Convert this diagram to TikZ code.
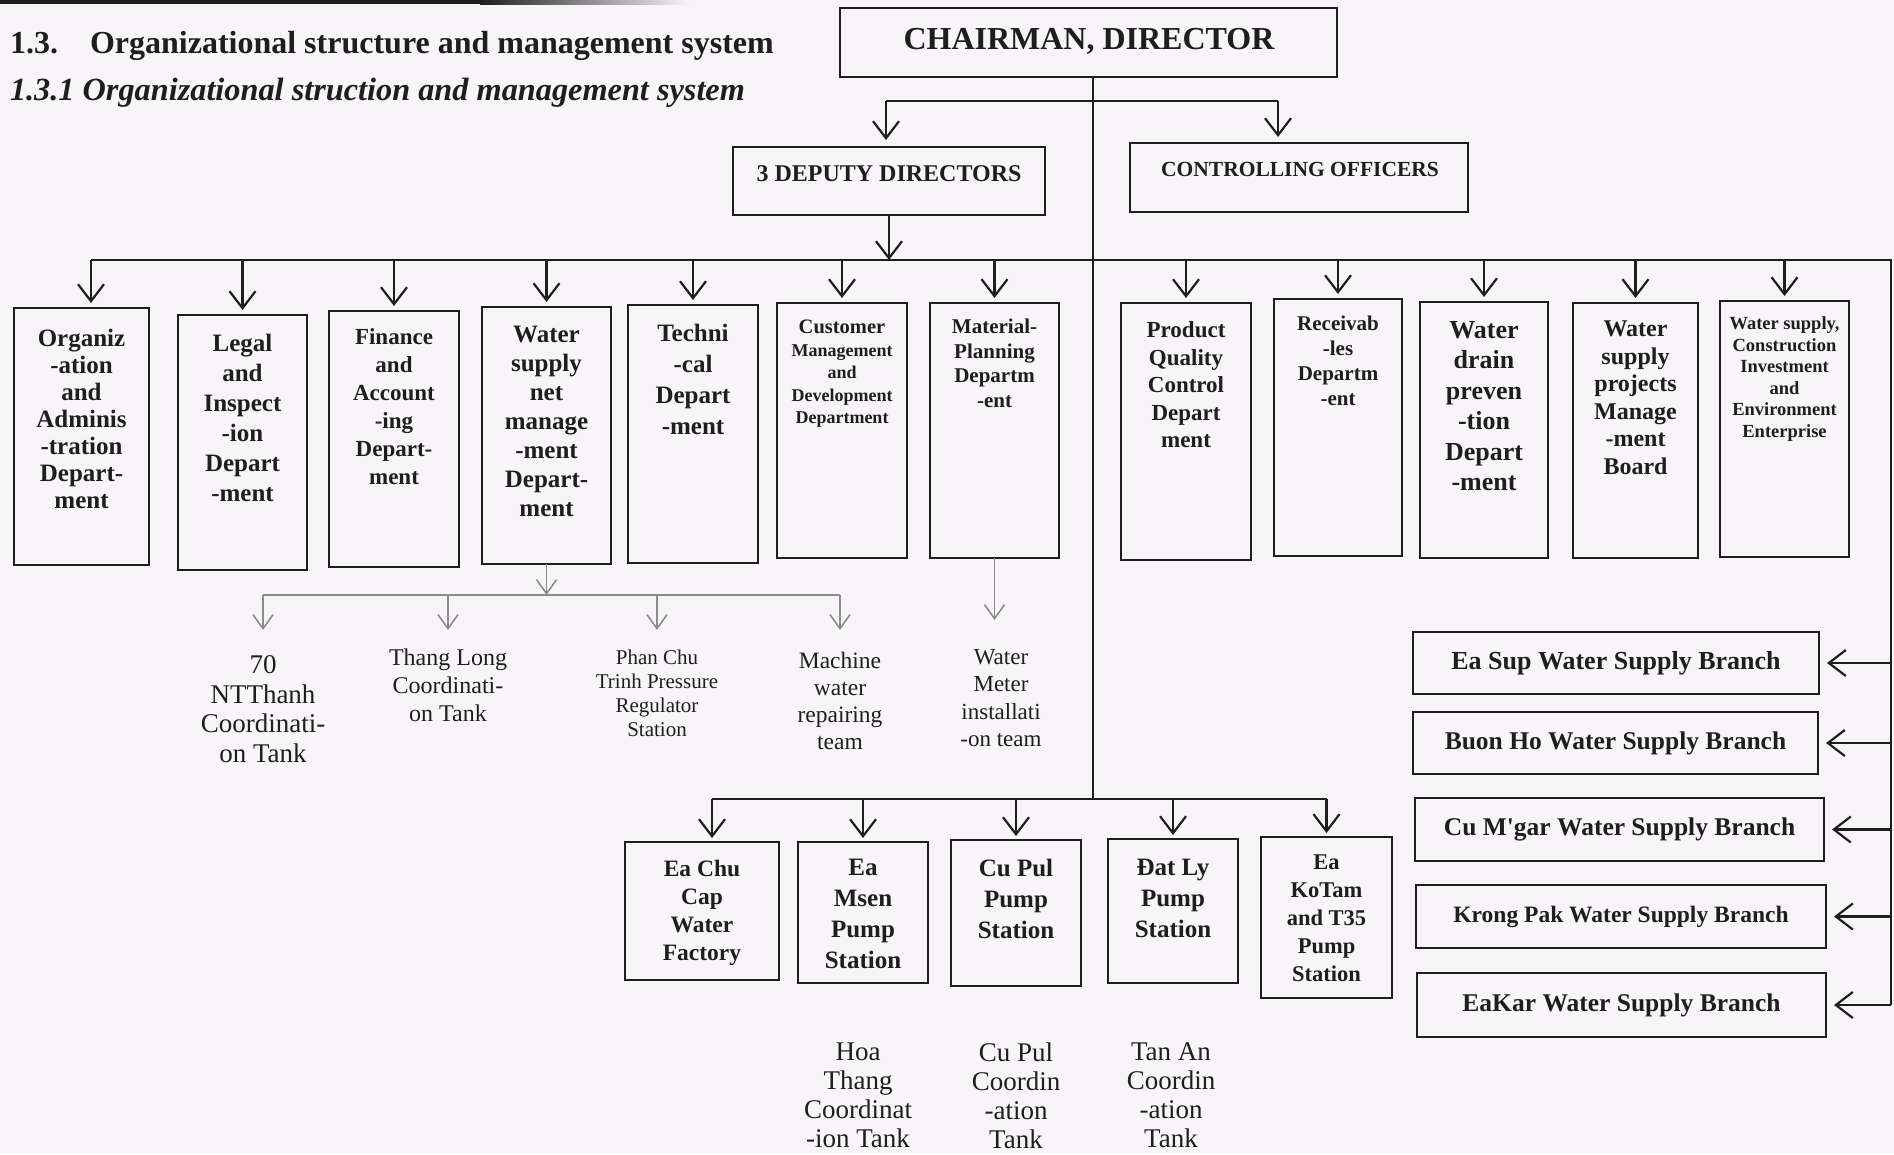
\documentclass[tikz,border=0pt]{standalone}
\usepackage{fontspec}
\setmainfont{Liberation Serif}
\usetikzlibrary{arrows.meta}
\definecolor{bgcol}{RGB}{248,245,248}
\definecolor{inkcol}{RGB}{30,30,30}
\tikzset{
  box/.style={draw=inkcol, line width=2.6pt, inner sep=0pt, outer sep=0pt},
  conn/.style={draw=inkcol, line width=2.2pt},
  arr/.style={conn, -{Straight Barb[length=17pt,width=26pt]}},
  gconn/.style={draw=black!45, line width=1.6pt},
  garr/.style={gconn, -{Straight Barb[length=14pt,width=20pt]}},
  txt/.style={inner sep=0pt, outer sep=0pt, align=center, text=inkcol},
}
\newcommand{\mybox}[5]{\node[box, anchor=north west, minimum width={#4-#2}, minimum height={#5-#3}] (#1) at (#2,#3) {};}
\begin{document}
\begin{tikzpicture}[x=1pt,y=-1pt]
\useasboundingbox (0,0) rectangle (1894,1154);
\fill[bgcol] (0,0) rectangle (1894,1154);
\fill[inkcol] (0,0) rectangle (480,4);
\shade[left color=inkcol, right color=bgcol] (480,0) rectangle (690,4);

% titles
\node[txt, anchor=base west, font=\bfseries\fontsize{32}{38}\selectfont] (title) at (10,53) {1.3.\hspace{32pt}Organizational structure and management system};
\node[txt, anchor=base west, font=\bfseries\itshape\fontsize{32.3}{38}\selectfont] (subtitle) at (10,100) {1.3.1 Organizational struction and management system};

% top level
\mybox{chair}{840}{8}{1337}{77}
\node[txt, font=\bfseries\fontsize{32}{36}\selectfont] (chairt) at (1089,41) {CHAIRMAN, DIRECTOR};
\mybox{deputy}{733}{147}{1045}{215}
\node[txt, font=\bfseries\fontsize{24}{27}\selectfont] (deputyt) at (889,174) {3 DEPUTY DIRECTORS};
\mybox{co}{1130}{143}{1468}{212}
\node[txt, font=\bfseries\fontsize{21.5}{25}\selectfont] (cot) at (1300,169) {CONTROLLING OFFICERS};

\coordinate (sp) at (1093,0);
\coordinate (tl) at (886,101);
\coordinate (tr) at (1278,101);
\coordinate (hl) at (0,260);
\coordinate (rtop) at (1891,260);
\coordinate (rbot) at (1891,1005);
\coordinate (pl) at (0,799);
\coordinate (g) at (0,595);
\coordinate (g2) at (0,630);
\coordinate (m) at (0,620);
\coordinate (d1a) at (91,0);
\coordinate (p1a) at (712,0);

% departments
\mybox{d1}{14}{308}{149}{565}
\mybox{d2}{178}{315}{307}{570}
\mybox{d3}{329}{311}{459}{567}
\mybox{d4}{482}{307}{611}{564}
\mybox{d5}{628}{305}{758}{563}
\mybox{d6}{777}{303}{907}{558}
\mybox{d7}{930}{303}{1059}{558}
\mybox{d8}{1121}{303}{1251}{560}
\mybox{d9}{1274}{299}{1402}{556}
\mybox{d10}{1420}{302}{1548}{558}
\mybox{d11}{1573}{303}{1698}{558}
\mybox{d12}{1720}{301}{1849}{557}

\node[txt, anchor=north, font=\bfseries\fontsize{25}{27}\selectfont] (d1t) at (81.5,329) {Organiz\\-ation\\and\\Adminis\\-tration\\Depart-\\ment};
\node[txt, anchor=north, font=\bfseries\fontsize{25}{30}\selectfont] (d2t) at (242.5,334) {Legal\\and\\Inspect\\-ion\\Depart\\-ment};
\node[txt, anchor=north, font=\bfseries\fontsize{23}{28}\selectfont] (d3t) at (394,329) {Finance\\and\\Account\\-ing\\Depart-\\ment};
\node[txt, anchor=north, font=\bfseries\fontsize{25}{29}\selectfont] (d4t) at (546.5,326) {Water\\supply\\net\\manage\\-ment\\Depart-\\ment};
\node[txt, anchor=north, font=\bfseries\fontsize{25}{31}\selectfont] (d5t) at (693,324) {Techni\\-cal\\Depart\\-ment};
\node[txt, anchor=north, font=\bfseries\fontsize{18}{22.5}\selectfont] (d6t) at (842,320) {{\fontsize{20.5}{22.5}\selectfont Customer}\\Management\\and\\Development\\Department};
\node[txt, anchor=north, font=\bfseries\fontsize{21}{24.5}\selectfont] (d7t) at (994.5,319) {Material-\\Planning\\Departm\\-ent};
\node[txt, anchor=north, font=\bfseries\fontsize{23}{27.5}\selectfont] (d8t) at (1186,322) {Product\\Quality\\Control\\Depart\\ment};
\node[txt, anchor=north, font=\bfseries\fontsize{21}{25}\selectfont] (d9t) at (1338,316) {Receivab\\-les\\Departm\\-ent};
\node[txt, anchor=north, font=\bfseries\fontsize{26}{30.5}\selectfont] (d10t) at (1484,321) {Water\\drain\\preven\\-tion\\Depart\\-ment};
\node[txt, anchor=north, font=\bfseries\fontsize{24}{27.5}\selectfont] (d11t) at (1635.5,321) {Water\\supply\\projects\\Manage\\-ment\\Board};
\node[txt, anchor=north, font=\bfseries\fontsize{18.5}{21.5}\selectfont] (d12t) at (1784.5,317) {Water supply,\\Construction\\Investment\\and\\Environment\\Enterprise};

% sub-units (plain labels)
\node[txt, anchor=north, font=\fontsize{27}{29.5}\selectfont] (l1) at (263,656) {70\\NTThanh\\Coordinati-\\on Tank};
\node[txt, anchor=north, font=\fontsize{24}{28}\selectfont] (l2) at (448,649) {Thang Long\\Coordinati-\\on Tank};
\node[txt, anchor=north, font=\fontsize{21}{24}\selectfont] (l3) at (657,650) {Phan Chu\\Trinh Pressure\\Regulator\\Station};
\node[txt, anchor=north, font=\fontsize{23.5}{27}\selectfont] (l4) at (840,652) {Machine\\water\\repairing\\team};
\node[txt, anchor=north, font=\fontsize{23}{27.5}\selectfont] (l5) at (1001,649) {Water\\Meter\\installati\\-on team};

% pump stations
\mybox{p1}{625}{842}{779}{980}
\mybox{p2}{798}{842}{928}{983}
\mybox{p3}{951}{840}{1081}{986}
\mybox{p4}{1108}{839}{1238}{983}
\mybox{p5}{1261}{837}{1392}{998}
\node[txt, anchor=north, font=\bfseries\fontsize{23.5}{28}\selectfont] (p1t) at (702,860) {Ea Chu\\Cap\\Water\\Factory};
\node[txt, anchor=north, font=\bfseries\fontsize{25}{31}\selectfont] (p2t) at (863,859) {Ea\\Msen\\Pump\\Station};
\node[txt, anchor=north, font=\bfseries\fontsize{25}{31}\selectfont] (p3t) at (1016,859) {Cu Pul\\Pump\\Station};
\node[txt, anchor=north, font=\bfseries\fontsize{25}{31}\selectfont] (p4t) at (1173,859) {Đat Ly\\Pump\\Station};
\node[txt, anchor=north, font=\bfseries\fontsize{22.5}{28}\selectfont] (p5t) at (1326.5,855) {Ea\\KoTam\\and T35\\Pump\\Station};

\node[txt, anchor=north, font=\fontsize{27}{29}\selectfont] (t1) at (858,1043) {Hoa\\Thang\\Coordinat\\-ion Tank};
\node[txt, anchor=north, font=\fontsize{27}{29}\selectfont] (t2) at (1016,1043) {Cu Pul\\Coordin\\-ation\\Tank};
\node[txt, anchor=north, font=\fontsize{27}{29}\selectfont] (t3) at (1171,1043) {Tan An\\Coordin\\-ation\\Tank};

% branches
\mybox{b1}{1413}{632}{1819}{694}
\mybox{b2}{1413}{712}{1818}{774}
\mybox{b3}{1415}{798}{1824}{861}
\mybox{b4}{1416}{885}{1826}{948}
\mybox{b5}{1417}{973}{1826}{1037}
\node[txt, font=\bfseries\fontsize{26}{28}\selectfont] (b1t) at (b1.center) {Ea Sup Water Supply Branch};
\node[txt, font=\bfseries\fontsize{25.5}{28}\selectfont] (b2t) at (b2.center) {Buon Ho Water Supply Branch};
\node[txt, font=\bfseries\fontsize{25.5}{28}\selectfont] (b3t) at (b3.center) {Cu M\textquotesingle gar Water Supply Branch};
\node[txt, font=\bfseries\fontsize{23.5}{26}\selectfont] (b4t) at (b4.center) {Krong Pak Water Supply Branch};
\node[txt, font=\bfseries\fontsize{25.5}{28}\selectfont] (b5t) at (b5.center) {EaKar Water Supply Branch};

% connectors: top
\draw[conn] (sp |- chair.south) -- (sp |- pl);
\draw[conn] (tl) -- (tr);
\draw[arr, shorten >=7pt] (tl) -- (tl |- deputy.north);
\draw[arr, shorten >=6pt] (tr) -- (tr |- co.north);
\draw[arr] (deputy.south) -- (deputy.south |- hl);
\draw[conn] (d1a |- hl) -- (rtop) -- (rbot);
\draw[arr, shorten >=5pt] (d1a |- hl) -- (d1a |- d1.north);
\foreach \d in {d2,d3,d4,d5,d6,d7,d8,d9,d10,d11,d12}
  \draw[arr, shorten >=5pt] (\d.north |- hl) -- (\d.north);

% gray subtree
\draw[garr] (d4.south) -- (d4.south |- g);
\draw[gconn] (l1 |- g) -- (l4 |- g);
\foreach \l in {l1,l2,l3,l4}
  \draw[garr] (\l |- g) -- (\l |- g2);
\draw[garr] (d7.south) -- (d7.south |- m);

% pump stations
\draw[conn] (p1a |- pl) -- (p5.north |- pl);
\draw[arr, shorten >=4pt] (p1a |- pl) -- (p1a |- p1.north);
\foreach \p in {p2,p3,p4,p5}
  \draw[arr, shorten >=4pt] (\p.north |- pl) -- (\p.north);

% branches
\foreach \b in {b1,b2,b3,b4,b5}
  \draw[arr, shorten >=8pt] (rtop |- \b.east) -- (\b.east);
\end{tikzpicture}
\end{document}
